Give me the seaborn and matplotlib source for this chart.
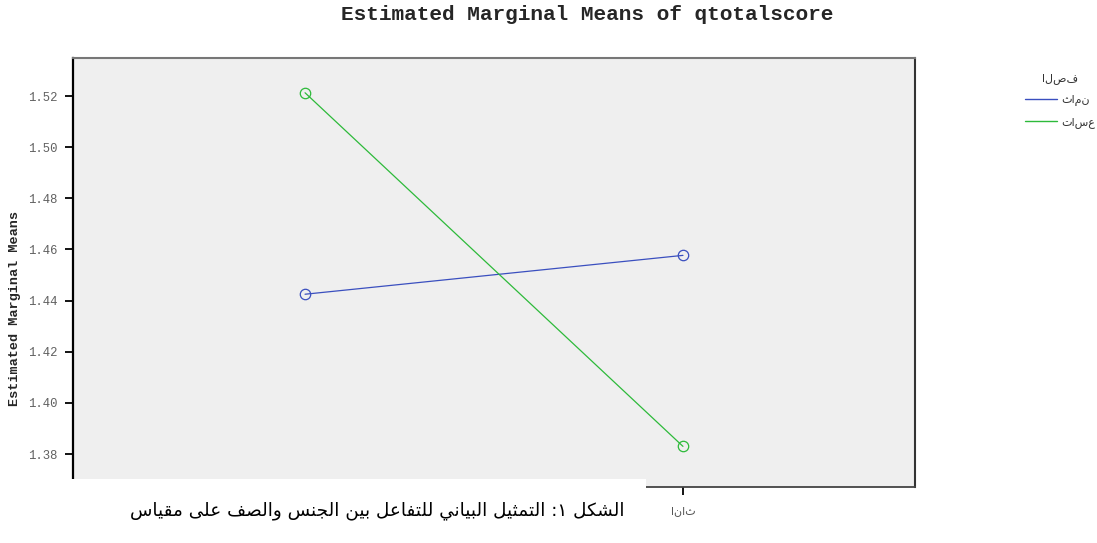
import matplotlib
matplotlib.use("Agg")
import matplotlib.pyplot as plt
from matplotlib.patches import Rectangle
import seaborn as sns
import pandas as pd

# ---- data ----
genders = ["ذكور", "اناث"]
grades = ["ثامن", "تاسع"]
means_grade8 = [1.4425, 1.4577]
means_grade9 = [1.5213, 1.3830]
legend_title = "الصف"
title = "Estimated Marginal Means of qtotalscore"
ylabel = "Estimated Marginal Means"
caption = "الشكل ١: التمثيل البياني للتفاعل بين الجنس والصف على مقياس"
yticks = [1.38, 1.40, 1.42, 1.44, 1.46, 1.48, 1.50, 1.52]

df = pd.DataFrame({
    "gender": genders * 2,
    "mean": means_grade8 + means_grade9,
    "grade": [grades[0]] * 2 + [grades[1]] * 2,
})

# ---- minimal Arabic shaping for the caption ----
FORMS = {
    'ا': ('\uFE8D', '\uFE8E', None, None),
    'ب': ('\uFE8F', '\uFE90', '\uFE91', '\uFE92'),
    'ت': ('\uFE95', '\uFE96', '\uFE97', '\uFE98'),
    'ث': ('\uFE99', '\uFE9A', '\uFE9B', '\uFE9C'),
    'ج': ('\uFE9D', '\uFE9E', '\uFE9F', '\uFEA0'),
    'ح': ('\uFEA1', '\uFEA2', '\uFEA3', '\uFEA4'),
    'خ': ('\uFEA5', '\uFEA6', '\uFEA7', '\uFEA8'),
    'د': ('\uFEA9', '\uFEAA', None, None),
    'ذ': ('\uFEAB', '\uFEAC', None, None),
    'ر': ('\uFEAD', '\uFEAE', None, None),
    'ز': ('\uFEAF', '\uFEB0', None, None),
    'س': ('\uFEB1', '\uFEB2', '\uFEB3', '\uFEB4'),
    'ش': ('\uFEB5', '\uFEB6', '\uFEB7', '\uFEB8'),
    'ص': ('\uFEB9', '\uFEBA', '\uFEBB', '\uFEBC'),
    'ض': ('\uFEBD', '\uFEBE', '\uFEBF', '\uFEC0'),
    'ط': ('\uFEC1', '\uFEC2', '\uFEC3', '\uFEC4'),
    'ظ': ('\uFEC5', '\uFEC6', '\uFEC7', '\uFEC8'),
    'ع': ('\uFEC9', '\uFECA', '\uFECB', '\uFECC'),
    'غ': ('\uFECD', '\uFECE', '\uFECF', '\uFED0'),
    'ف': ('\uFED1', '\uFED2', '\uFED3', '\uFED4'),
    'ق': ('\uFED5', '\uFED6', '\uFED7', '\uFED8'),
    'ك': ('\uFED9', '\uFEDA', '\uFEDB', '\uFEDC'),
    'ل': ('\uFEDD', '\uFEDE', '\uFEDF', '\uFEE0'),
    'م': ('\uFEE1', '\uFEE2', '\uFEE3', '\uFEE4'),
    'ن': ('\uFEE5', '\uFEE6', '\uFEE7', '\uFEE8'),
    'ه': ('\uFEE9', '\uFEEA', '\uFEEB', '\uFEEC'),
    'و': ('\uFEED', '\uFEEE', None, None),
    'ي': ('\uFEF1', '\uFEF2', '\uFEF3', '\uFEF4'),
    'ى': ('\uFEEF', '\uFEF0', None, None),
    'ة': ('\uFE93', '\uFE94', None, None),
}


def shape_arabic(s):
    out = []
    i = 0
    n = len(s)
    while i < n:
        c = s[i]
        if c not in FORMS:
            out.append(c)
            i += 1
            continue
        prev = s[i - 1] if i > 0 else ''
        join_prev = prev in FORMS and FORMS[prev][2] is not None
        if c == 'ل' and i + 1 < n and s[i + 1] == 'ا':
            out.append('\uFEFC' if join_prev else '\uFEFB')
            i += 2
            continue
        nxt = s[i + 1] if i + 1 < n else ''
        join_next = FORMS[c][2] is not None and nxt in FORMS
        iso, fin, ini, med = FORMS[c]
        if join_prev and join_next:
            out.append(med)
        elif join_prev:
            out.append(fin)
        elif join_next:
            out.append(ini)
        else:
            out.append(iso)
        i += 1
    return ''.join(out)[::-1]


# ---- plot ----
sns.set_theme(style="white")
W, H = 1097, 543
fig = plt.figure(figsize=(W / 100, H / 100), dpi=100)
ax = fig.add_axes([73 / W, 1 - 487 / H, (915 - 73) / W, (487 - 58) / H])

palette = {grades[0]: "#3a4fbf", grades[1]: "#2dba3a"}
sns.lineplot(data=df, x="gender", y="mean", hue="grade", hue_order=grades,
             palette=palette, marker="o", markersize=7.5, linewidth=0.9,
             sort=False, ax=ax, legend=True)
for line in ax.lines:
    line.set_markerfacecolor("none")
    line.set_markeredgecolor(line.get_color())
    line.set_markeredgewidth(0.9)

ax.set_facecolor("#efefef")
ax.set_xlim(-0.614, 1.614)
ax.set_ylim(1.3671, 1.5349)
ax.set_yticks(yticks)
ax.set_yticklabels([f"{v:.2f}" for v in yticks], family="Liberation Mono",
                   fontsize=8.8, color="#606060")
ax.set_xticks(range(len(genders)))
ax.set_xticklabels(genders, family="DejaVu Sans", fontsize=8, color="#555555")
# the first category label sits under the caption box in the reference
ax.get_xticklabels()[0].set_visible(False)
ax.tick_params(axis="both", direction="out", length=6, width=1.3,
               color="black", left=True, bottom=True)
ax.tick_params(axis="y", pad=5)
ax.tick_params(axis="x", pad=8)
ax.set_xlabel("")
ax.set_ylabel(ylabel, family="Liberation Mono", fontweight="bold",
              fontsize=9.7)
ax.yaxis.set_label_coords(-0.062, 0.417)

for side, col, lw in [("left", "black", 1.6), ("bottom", "#444444", 1.3),
                      ("top", "#777777", 1.5), ("right", "#333333", 1.5)]:
    ax.spines[side].set_visible(True)
    ax.spines[side].set_color(col)
    ax.spines[side].set_linewidth(lw)

leg = ax.legend(title=legend_title, loc="upper left",
                bbox_to_anchor=(1015 / W, 1 - 63 / H),
                bbox_transform=fig.transFigure, frameon=False,
                fontsize=8, title_fontsize=8, handlelength=2.9,
                handletextpad=0.4, labelspacing=1.0)
for t in leg.get_texts():
    t.set_color("#333333")
leg.get_title().set_color("#333333")
for h in leg.get_lines():
    h.set_marker("")
    h.set_linewidth(1.0)

fig.text((340 + 835) / 2 / W, 1 - 15 / H, title, ha="center", va="center",
         family="Liberation Mono", fontweight="bold", fontsize=15.2)

# caption box overlapping the bottom of the chart
fig.add_artist(Rectangle((53 / W, 0), (646 - 53) / W, (543 - 479) / H,
                         transform=fig.transFigure, facecolor="white",
                         edgecolor="none", zorder=10))
fig.text(625 / W, 1 - 511 / H, shape_arabic(caption), ha="right",
         va="center", family="DejaVu Sans", fontsize=13.2, color="black",
         zorder=11)

fig.savefig("out.png", dpi=100)
